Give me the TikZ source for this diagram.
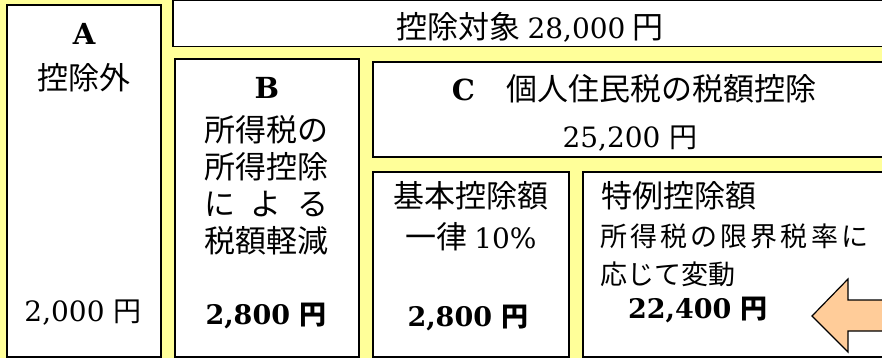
\documentclass[tikz,border=0pt]{standalone}
\usepackage{fontspec}
\setmainfont{DejaVu Serif}
\newfontfamily\jpfont{Noto Sans CJK JP}
\newcommand\jp[1]{{\jpfont #1}}
\newcommand\num[1]{{\rmfamily\fontsize{28}{37}\selectfont #1}}
\definecolor{bgyellow}{HTML}{FFFF99}
\definecolor{arroworange}{HTML}{FFCC99}
\begin{document}
\begin{tikzpicture}
    [
    x=1pt,y=-1pt,
    box/.style={draw,line width=1.4pt,fill=white,rectangle,inner sep=0pt,outer sep=0pt,anchor=north west},
    txt/.style={inner sep=0pt,font=\fontsize{28}{37}\selectfont},
    jtxt/.style={inner sep=0pt,font=\jpfont\fontsize{31}{37}\selectfont},
    note/.style={inner sep=0pt,anchor=west,font=\jpfont\fontsize{27}{32}\selectfont},
    heading/.style={inner sep=0pt,font=\bfseries\fontsize{29}{34}\selectfont},
    amount/.style={inner sep=0pt,font=\bfseries\fontsize{27}{34}\selectfont}
    ]
    \useasboundingbox (0,0) rectangle (882,358);
    \clip (0,0) rectangle (882,358);
    \fill [bgyellow] (0,0) rectangle (882,358);
    % boxes
    \node (boxA) at (7,5) [box,minimum width=154pt,minimum height=352pt] {};
    \node (boxTop) at (173,0.7) [box,minimum width=730pt,minimum height=46pt] {};
    \node (boxB) at (175,59) [box,minimum width=184pt,minimum height=298pt] {};
    \node (boxC) at (373,62) [box,minimum width=530pt,minimum height=95pt] {};
    \node (boxBase) at (373,172) [box,minimum width=196pt,minimum height=185pt] {};
    \node (boxSpecial) at (583,172) [box,minimum width=320pt,minimum height=185pt] {};
    % texts
    \node (topText) at (530,27) [jtxt] {控除対象 \num{28,000} 円};
    \node (labA) at (84,34) [heading] {A};
    \node (textA) at (84,78) [jtxt] {控除外};
    \node (amtA) at (83,313) [txt] {2,000 \jp{円}};
    \node (labB) at (267,88) [heading] {B};
    \node (textB) at (266,185) [jtxt,align=center] {所得税の\\所得控除\\\makebox[124pt][s]{に\hfil よ\hfil る}\\税額軽減};
    \node (amtB) at (266,316) [amount] {2,800 \jp{円}};
    \node (labC) at (634,89) [jtxt] {{\rmfamily\bfseries\fontsize{29}{34}\selectfont C}　個人住民税の税額控除};
    \node (amtC) at (630,139) [txt] {25,200 \jp{円}};
    \node (labBase) at (471,196) [jtxt] {基本控除額};
    \node (rateBase) at (471,237) [jtxt] {一律 \num{10\%}};
    \node (amtBase) at (468,318) [amount] {2,800 \jp{円}};
    \node (labSpecial) at (601,196) [jtxt,anchor=west] {特例控除額};
    \node (noteSpecial) at (600,236) [note] {\makebox[268pt][s]{所\hfil 得\hfil 税\hfil の\hfil 限\hfil 界\hfil 税\hfil 率\hfil に}};
    \node (noteSpecialb) at (600,274) [note] {応じて変動};
    \node (amtSpecial) at (698,310) [amount] {22,400 \jp{円}};
    % arrow
    \draw [line width=1.2pt,fill=arroworange,line join=miter] (812,316) -- (848,279) -- (848,300) -- (890,300) -- (890,331) -- (848,331) -- (848,352) -- cycle;
\end{tikzpicture}
\end{document}
